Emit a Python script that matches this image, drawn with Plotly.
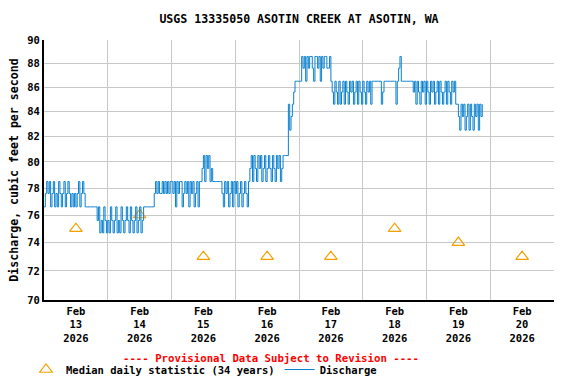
import math
import pandas as pd
import plotly.graph_objects as go

# 30-minute discharge readings (cfs), one list per day, starting at midnight
feb13 = [76.6, 77.6, 78.5, 77.6, 78.5, 76.6, 77.6, 78.5, 76.6, 77.6, 76.6, 78.5,
         77.6, 76.6, 77.6, 78.5, 76.6, 77.6, 78.5, 77.6, 76.6, 77.6, 76.6, 77.6,
         76.6, 77.6, 78.5, 76.6, 77.6, 78.5, 77.6, 76.6, 76.6, 76.6, 76.6, 76.6,
         76.6, 76.6, 76.6, 76.6, 75.6, 76.6, 74.7, 75.6, 74.7, 76.6, 75.6, 74.7]
feb14 = [75.6, 74.7, 76.6, 75.6, 74.7, 75.6, 76.6, 74.7, 75.6, 74.7, 76.6, 75.6,
         74.7, 75.6, 76.6, 75.6, 74.7, 76.6, 75.6, 74.7, 75.6, 76.6, 74.7, 75.6,
         76.6, 74.7, 75.6, 76.6, 76.6, 76.6, 76.6, 76.6, 76.6, 76.6, 76.6, 77.6,
         78.5, 77.6, 78.5, 77.6, 77.6, 78.5, 77.6, 78.5, 77.6, 78.5, 77.6, 78.5]
feb15 = [78.5, 77.6, 78.5, 76.6, 78.5, 77.6, 78.5, 78.5, 76.6, 77.6, 78.5, 77.6,
         78.5, 76.6, 78.5, 77.6, 78.5, 76.6, 77.6, 78.5, 76.6, 78.5, 78.5, 79.5,
         80.5, 78.5, 80.5, 79.5, 80.5, 78.5, 79.5, 78.5, 78.5, 78.5, 78.5, 78.5,
         78.5, 78.5, 77.6, 76.6, 78.5, 77.6, 78.5, 76.6, 77.6, 78.5, 76.6, 78.5]
feb16 = [77.6, 78.5, 76.6, 77.6, 78.5, 76.6, 77.6, 78.5, 77.6, 76.6, 78.5, 79.5,
         80.5, 78.5, 80.5, 79.5, 78.5, 80.5, 79.5, 80.5, 78.5, 79.5, 80.5, 78.5,
         79.5, 80.5, 79.5, 78.5, 80.5, 79.5, 78.5, 80.5, 79.5, 80.5, 78.5, 79.5,
         80.5, 80.5, 80.5, 80.5, 84.6, 82.5, 83.6, 84.6, 85.6, 86.5, 86.5, 86.5]
feb17 = [86.5, 86.5, 88.6, 87.6, 88.6, 86.5, 88.6, 87.6, 88.6, 88.6, 87.6, 86.5,
         88.6, 88.6, 87.6, 88.6, 86.5, 88.6, 87.6, 88.6, 88.6, 87.6, 87.6, 88.6,
         86.5, 85.6, 84.6, 86.5, 85.6, 84.6, 86.5, 84.6, 85.6, 86.5, 84.6, 86.5,
         85.6, 84.6, 86.5, 85.6, 86.5, 84.6, 85.6, 86.5, 84.6, 86.5, 85.6, 84.6]
feb18 = [86.5, 85.6, 84.6, 86.5, 85.6, 86.5, 84.6, 86.5, 86.5, 86.5, 86.5, 86.5,
         86.5, 86.5, 84.6, 85.6, 86.5, 86.5, 86.5, 86.5, 86.5, 86.5, 86.5, 86.5,
         86.5, 84.6, 86.5, 87.6, 88.6, 86.5, 86.5, 86.5, 86.5, 86.5, 86.5, 86.5,
         86.5, 86.5, 85.6, 86.5, 84.6, 86.5, 85.6, 84.6, 86.5, 85.6, 86.5, 84.6]
feb19 = [86.5, 85.6, 84.6, 86.5, 85.6, 86.5, 84.6, 85.6, 86.5, 84.6, 86.5, 85.6,
         84.6, 85.6, 86.5, 84.6, 86.5, 85.6, 84.6, 86.5, 85.6, 86.5, 84.6, 84.6,
         83.6, 82.5, 84.6, 83.6, 84.6, 82.5, 83.6, 84.6, 82.5, 84.6, 83.6, 82.5,
         84.6, 83.6, 84.6, 82.5, 84.6, 83.6, 84.6]

median_dates = ["2026-02-13 12:00", "2026-02-14 12:00", "2026-02-15 12:00", "2026-02-16 12:00",
                "2026-02-17 12:00", "2026-02-18 12:00", "2026-02-19 12:00", "2026-02-20 12:00"]
median_vals = [75, 76, 73, 73, 73, 75, 74, 73]

tick_labels = ["Feb<br>13<br>2026", "Feb<br>14<br>2026", "Feb<br>15<br>2026", "Feb<br>16<br>2026",
               "Feb<br>17<br>2026", "Feb<br>18<br>2026", "Feb<br>19<br>2026", "Feb<br>20<br>2026"]
y_ticks = [70, 72, 74, 76, 78, 80, 82, 84, 86, 88, 90]

q = feb13 + feb14 + feb15 + feb16 + feb17 + feb18 + feb19
times = pd.date_range("2026-02-13 00:00", periods=len(q), freq="30min")

FONT = "DejaVu Sans Mono"
BIG = 11.6
SMALL = 10.5

fig = go.Figure()
fig.add_trace(go.Scatter(
    x=median_dates, y=median_vals, mode="markers", name="Median daily statistic (34 years)",
    marker=dict(symbol="triangle-up-open", size=11, color="#f5a000", line=dict(width=1.2))))
fig.add_trace(go.Scatter(
    x=times, y=q, mode="lines", name="Discharge", line_shape="hv",
    line=dict(color="#0a80cf", width=1)))

fig.update_layout(
    width=576, height=384,
    margin=dict(l=44, r=22, t=40, b=84, autoexpand=False),
    plot_bgcolor="white", paper_bgcolor="white",
    font=dict(family=FONT, size=SMALL, color="black", weight="bold"),
    title=dict(text="USGS 13335050 ASOTIN CREEK AT ASOTIN, WA", x=0.5, xref="paper",
               y=1 - 19 / 384, yref="container", yanchor="middle",
               font=dict(family=FONT, size=BIG, weight="bold", color="black")),
    showlegend=True,
    legend=dict(orientation="h", x=26 / 576, xref="container", xanchor="left",
                y=0.0, yref="container", yanchor="bottom",
                font=dict(family=FONT, size=SMALL, weight="bold"),
                tracegroupgap=0, bgcolor="rgba(0,0,0,0)"),
    annotations=[dict(text="---- Provisional Data Subject to Revision ----",
                      x=(271 - 44) / 510, xref="paper", y=-58 / 260, yref="paper", yanchor="middle",
                      showarrow=False, font=dict(family=FONT, size=10.7, color="red", weight="bold"))],
)
fig.update_xaxes(
    type="date", range=["2026-02-13 00:00", "2026-02-21 00:00"], automargin=False,
    tickmode="array", tickvals=median_dates, ticktext=tick_labels, ticks="",
    showgrid=False, showline=True, linecolor="black", linewidth=2, mirror=False,
    minor=dict(tick0="2026-02-13", dtick=86400000, showgrid=True, gridcolor="#c8c8c8", gridwidth=1),
    zeroline=False)
fig.update_yaxes(
    type="log", range=[math.log10(70), math.log10(90) + 0.0001], automargin=False,
    tickvals=y_ticks, ticktext=[str(v) for v in y_ticks],
    showgrid=True, gridcolor="#c8c8c8", gridwidth=1, ticks="",
    showline=True, linecolor="black", linewidth=2, zeroline=False,
    title=dict(text="Discharge, cubic feet per second", standoff=6,
               font=dict(family=FONT, size=BIG, weight="bold")))

fig.write_html("out.html", config={"displayModeBar": False},
               post_script="document.body.style.margin = '0';")
